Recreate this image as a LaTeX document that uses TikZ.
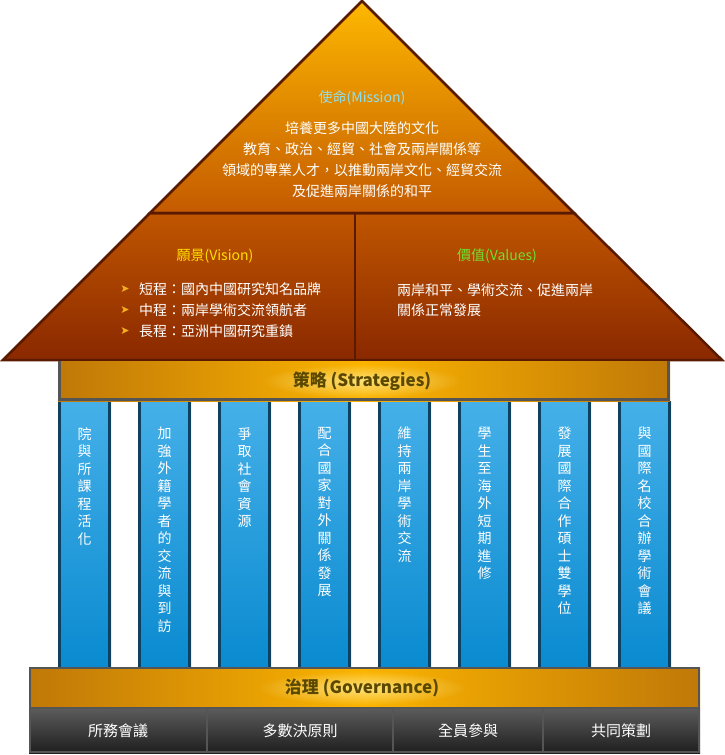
\documentclass[tikz,border=0pt]{standalone}
\usepackage{fontspec}
\setmainfont{Noto Sans CJK TC}
\newfontfamily\symfont{DejaVu Sans}
\usetikzlibrary{fadings}
\definecolor{roofA}{HTML}{FDB800}
\definecolor{roofB}{HTML}{C45A00}
\definecolor{trapA}{HTML}{C05600}
\definecolor{trapB}{HTML}{8A2800}
\definecolor{roofline}{HTML}{5A1A00}
\definecolor{missioncol}{HTML}{8FE0F0}
\definecolor{visioncol}{HTML}{FFE000}
\definecolor{valuescol}{HTML}{70E030}
\definecolor{bulletcol}{HTML}{F5B020}
\definecolor{colA}{HTML}{45B0E8}
\definecolor{colB}{HTML}{0A8AD0}
\definecolor{colborder}{HTML}{0F4060}
\definecolor{goldD}{HTML}{C07808}
\definecolor{goldL}{HTML}{FBB400}
\definecolor{labelcol}{HTML}{5A4800}
\definecolor{glowcol}{HTML}{FFF0A0}
\definecolor{framegray}{HTML}{555555}
\definecolor{baseA}{HTML}{5C5C5C}
\definecolor{baseB}{HTML}{1E1E1E}
\tikzfading[name=fuzzyglow, inner color=transparent!25, outer color=transparent!100]
\tikzset{
  txt/.style={inner sep=0pt, text=white, font=\fontsize{14}{17}\selectfont},
  coltxt/.style={inner sep=0pt, text=white, align=center, anchor=north, font=\fontsize{14}{17.5}\selectfont},
  bigtxt/.style={inner sep=0pt, text=labelcol, font=\fontsize{17}{20}\selectfont\bfseries},
  glowfill/.style={fill=glowcol, path fading=fuzzyglow},
  basetxt/.style={inner sep=0pt, text=white, font=\fontsize{15}{18}\selectfont},
}
\begin{document}
\begin{tikzpicture}[x=1pt,y=-1pt]
\useasboundingbox (0,0) rectangle (725,755);
% roof top triangle
\shade[top color=roofA, bottom color=roofB] (362,1) -- (574,213) -- (150,213) -- cycle;
% roof trapezoid
\shade[top color=trapA, bottom color=trapB] (150,213) -- (574,213) -- (722,360) -- (3,360) -- cycle;
\draw[roofline, line width=2.5pt, line join=miter] (362,1) -- (574,213) -- (150,213) -- cycle;
\draw[roofline, line width=2.5pt, line join=miter] (150,213) -- (574,213) -- (722,360) -- (3,360) -- cycle;
\draw[roofline, line width=2.5pt] (355,213) -- (355,360);
% mission
\node[txt, text=missioncol] (mtitle) at (362,98) {使命(Mission)};
\node[txt] (m1) at (362,128) {培養更多中國大陸的文化};
\node[txt] (m2) at (362,149) {教育、政治、經貿、社會及兩岸關係等};
\node[txt] (m3) at (362,170) {領域的專業人才，以推動兩岸文化、經貿交流};
\node[txt] (m4) at (362,191) {及促進兩岸關係的和平};
% vision
\node[txt, text=visioncol] (vtitle) at (215,256) {願景(Vision)};
\foreach \yy/\t [count=\i] in {289/短程：國內中國研究知名品牌, 310/中程：兩岸學術交流領航者, 331/長程：亞洲中國研究重鎮}{
  \node[inner sep=0pt, text=bulletcol, font=\symfont\fontsize{11}{12}\selectfont] (vb\i) at (125,\yy) {➤};
  \node[txt, anchor=west] (v\i) at (139,\yy) {\t};
}
% values
\node[txt, text=valuescol] (ltitle) at (497,256) {價值(Values)};
\node[txt, anchor=west] (l1) at (397,290) {兩岸和平、學術交流、促進兩岸};
\node[txt, anchor=west] (l2) at (397,310) {關係正常發展};
% columns
\foreach \t [count=\i from 0] in {院\\與\\所\\課\\程\\活\\化, 加\\強\\外\\籍\\學\\者\\的\\交\\流\\與\\到\\訪, 爭\\取\\社\\會\\資\\源, 配\\合\\國\\家\\對\\外\\關\\係\\發\\展, 維\\持\\兩\\岸\\學\\術\\交\\流, 學\\生\\至\\海\\外\\短\\期\\進\\修, 發\\展\\國\\際\\合\\作\\碩\\士\\雙\\學\\位, 與\\國\\際\\名\\校\\合\\辦\\學\\術\\會\\議}{
  \pgfmathsetmacro{\xa}{58+80*\i}
  \pgfmathsetmacro{\xb}{\xa+53}
  \pgfmathsetmacro{\xc}{\xa+26.5}
  \shade[top color=colA, bottom color=colB] (\xa,401) rectangle (\xb,668);
  \draw[colborder, line width=3pt] (\xa+1.5,401) -- (\xa+1.5,668) (\xb-1.5,401) -- (\xb-1.5,668);
  \node[coltxt] (c\i) at (\xc,427) {\t};
}
% strategies bar
\shade[left color=goldD, right color=goldD, middle color=goldL] (58,361) rectangle (670,401);
\draw[framegray, line width=3pt] (59.5,361) -- (59.5,399.5) -- (668.5,399.5) -- (668.5,361);
\draw[roofline, line width=2.5pt] (3,360) -- (722,360);
\fill[glowfill] (362,381) ellipse (100 and 17);
\node[bigtxt] (strat) at (362,381) {策略 (Strategies)};
% governance bar
\shade[left color=goldD, right color=goldD, middle color=goldL] (29,667) rectangle (700,708);
\draw[framegray, line width=2pt] (30,668) rectangle (699,708);
\fill[glowfill] (362,688) ellipse (105 and 17);
\node[bigtxt] (gov) at (362,688) {治理 (Governance)};
% base row
\shade[top color=baseA, bottom color=baseB] (29,708) rectangle (700,753);
\draw[framegray, line width=2pt] (30,708) rectangle (699,752);
\foreach \xx in {207,393,543}
  \draw[framegray, line width=2pt] (\xx,709) -- (\xx,752);
\node[basetxt] (b1) at (118,731) {所務會議};
\node[basetxt] (b2) at (300,731) {多數決原則};
\node[basetxt] (b3) at (468,731) {全員參與};
\node[basetxt] (b4) at (621,731) {共同策劃};
\end{tikzpicture}
\end{document}
